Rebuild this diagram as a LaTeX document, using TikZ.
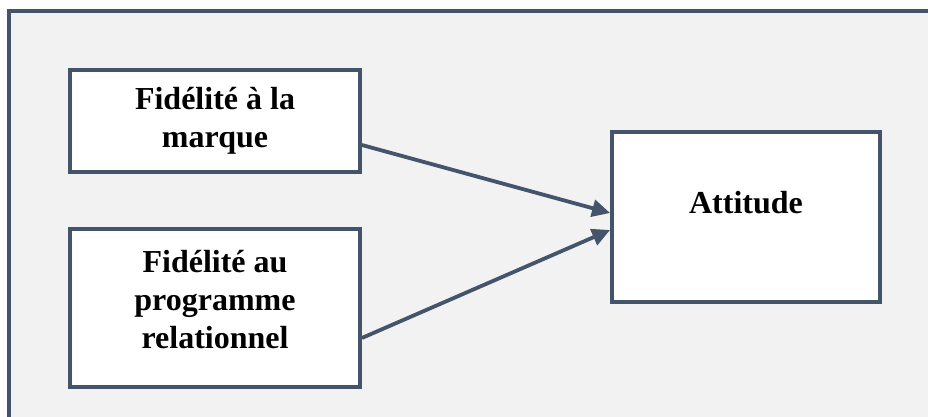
\documentclass[tikz,border=0pt]{standalone}
\usepackage{fontspec}
\setmainfont{Liberation Serif}
\usepackage{tikz}
\usetikzlibrary{arrows.meta}

\definecolor{framecol}{HTML}{44546A}
\definecolor{backcol}{HTML}{F2F2F2}

\tikzset{
  box/.style={draw=framecol, fill=white, line width=3.8pt, inner sep=0pt},
  lbl/.style={font=\fontsize{32}{38}\selectfont\bfseries, align=center, inner sep=0pt},
  link/.style={draw=framecol, line width=3.8pt, -{Triangle[length=18pt,width=17pt]}}
}

\begin{document}
\begin{tikzpicture}[x=1pt, y=-1pt]

\fill[white] (0,0) rectangle (928,417);
\useasboundingbox (0,0) rectangle (928,417);
\clip (0,0) rectangle (928,417);
\draw[framecol, fill=backcol, line width=3.4pt] (9,11) rectangle (960,450);

% Define nodes
\node[box, minimum width=290pt, minimum height=102pt] (brand) at (215,121) {};
\node[box, minimum width=290pt, minimum height=158pt] (prog) at (215,308) {};
\node[box, minimum width=268pt, minimum height=170pt] (att) at (746,217) {};

\node[lbl, anchor=base] (brandtxt) at (215,147) {Fidélité à la\\marque};
\node[lbl, anchor=base] (progtxt) at (215,348) {Fidélité au\\programme\\relationnel};
\node[lbl, anchor=base] (atttxt) at (746,213) {Attitude};

% Connect the nodes
\draw[link] ([yshift=-24pt]brand.east) -- ([yshift=4pt]att.west);
\draw[link] ([yshift=-30pt]prog.east) -- ([yshift=-13pt]att.west);

\end{tikzpicture}
\end{document}
